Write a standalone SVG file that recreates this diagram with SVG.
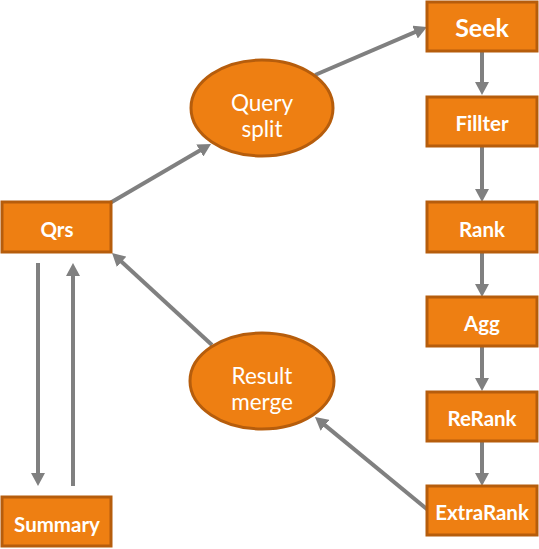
<svg xmlns="http://www.w3.org/2000/svg" width="539" height="549" viewBox="0 0 539 549">
<style>
.box{fill:#EE7F12;stroke:#B65D0C;stroke-width:3}
.ell{fill:#EE7F12;stroke:#B65D0C;stroke-width:3}
.bt{fill:#FFFFFF;font-family:Lato,"Open Sans",sans-serif;font-weight:bold;font-size:20.5px;text-anchor:middle}
.big{font-size:25px}
.et{fill:#FFFFFF;font-family:Lato,"Open Sans",sans-serif;font-size:22.5px;text-anchor:middle}
.conn line{stroke:#808080;stroke-width:4;marker-end:url(#ah)}
</style>
<defs>
<marker id="ah" markerUnits="userSpaceOnUse" markerWidth="13" markerHeight="14" refX="3" refY="7" orient="auto">
<path d="M0,0 L13,7 L0,14 z" fill="#808080"/>
</marker>
</defs>
<rect width="539" height="549" fill="#FFFFFF"/>
<g id="connectors" class="conn">
<line x1="110" y1="203" x2="202.4" y2="149"/>
<line x1="315" y1="75" x2="417.8" y2="30.9"/>
<line x1="482" y1="51" x2="482" y2="85"/>
<line x1="482" y1="146" x2="482" y2="192"/>
<line x1="482" y1="252" x2="482" y2="287"/>
<line x1="482" y1="346" x2="482" y2="381"/>
<line x1="482" y1="441" x2="482" y2="476"/>
<line x1="428" y1="510" x2="322.7" y2="423.4"/>
<line x1="212" y1="345" x2="119.4" y2="259.8"/>
<line x1="38" y1="263" x2="38" y2="476"/>
<line x1="73" y1="486" x2="73" y2="273"/>
</g>
<g id="qrs"><rect class="box" x="2" y="202" width="109" height="50"/><text class="bt" x="57" y="237">Qrs</text></g>
<g id="summary"><rect class="box" x="2" y="497" width="109" height="49"/><text class="bt" x="57" y="532">Summary</text></g>
<g id="query-split"><ellipse class="ell" cx="262" cy="108" rx="71" ry="48"/><text class="et" x="262" y="111">Query</text><text class="et" x="262" y="137">split</text></g>
<g id="result-merge"><ellipse class="ell" cx="262" cy="381" rx="72" ry="48"/><text class="et" x="262" y="384">Result</text><text class="et" x="262" y="410">merge</text></g>
<g id="seek"><rect class="box" x="427" y="2" width="110" height="49"/><text class="bt big" x="482" y="37">Seek</text></g>
<g id="fillter"><rect class="box" x="427" y="97" width="110" height="49"/><text class="bt" x="482" y="131">Fillter</text></g>
<g id="rank"><rect class="box" x="427" y="202" width="110" height="50"/><text class="bt" x="482" y="237">Rank</text></g>
<g id="agg"><rect class="box" x="427" y="297" width="110" height="49"/><text class="bt" x="482" y="331">Agg</text></g>
<g id="rerank"><rect class="box" x="427" y="392" width="110" height="49"/><text class="bt" x="482" y="426">ReRank</text></g>
<g id="extrarank"><rect class="box" x="427" y="486" width="110" height="49"/><text class="bt" x="482" y="520">ExtraRank</text></g>
</svg>
